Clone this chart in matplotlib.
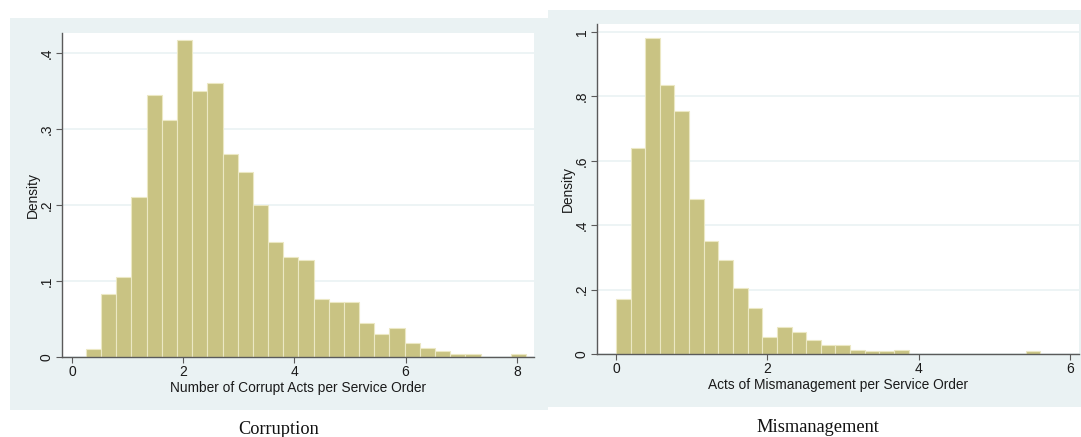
import numpy as np
import matplotlib
matplotlib.use("Agg")
import matplotlib.pyplot as plt
from matplotlib.patches import Rectangle

# ---- data (density per bin) ----
corr_start = 0.25
corr_binw = 0.273
corr_density = [0.011, 0.083, 0.105, 0.211, 0.345, 0.312, 0.417, 0.350, 0.361,
                0.267, 0.244, 0.200, 0.151, 0.132, 0.128, 0.076, 0.072, 0.072,
                0.045, 0.030, 0.038, 0.019, 0.012, 0.008, 0.0045, 0.0045, 0.0,
                0.0, 0.0045]
mism_start = 0.0
mism_binw = 0.1934
mism_density = [0.170, 0.639, 0.980, 0.837, 0.754, 0.480, 0.350, 0.291, 0.206,
                0.144, 0.053, 0.085, 0.069, 0.043, 0.027, 0.027, 0.012, 0.008,
                0.008, 0.012, 0.0, 0.0, 0.0, 0.0, 0.0, 0.0, 0.0, 0.0, 0.008]

corr_xticks = [0, 2, 4, 6, 8]
corr_yticks = [0, 0.1, 0.2, 0.3, 0.4]
corr_yticklabels = ["0", ".1", ".2", ".3", ".4"]
mism_xticks = [0, 2, 4, 6]
mism_yticks = [0, 0.2, 0.4, 0.6, 0.8, 1.0]
mism_yticklabels = ["0", ".2", ".4", ".6", ".8", "1"]

W, H = 1081, 437
fig = plt.figure(figsize=(W / 100, H / 100), dpi=100)
fig.patch.set_facecolor("white")

BG = "#EAF2F3"
BAR = "#C9C383"
EDGE = "#ECE8C4"
AX = "#5A5A5A"
TXT = "#1a1a1a"

def px_rect(x0, y0, x1, y1):
    return [x0 / W, 1 - y1 / H, (x1 - x0) / W, (y1 - y0) / H]

# panel backgrounds
for (x0, y0, x1, y1) in [(10, 18, 548, 410), (548, 10, 1081, 407)]:
    r = px_rect(x0, y0, x1, y1)
    fig.patches.append(Rectangle((r[0], r[1]), r[2], r[3], transform=fig.transFigure,
                                 facecolor=BG, edgecolor="none", zorder=-10))

def panel(rect, start, binw, dens, xlim, ylim, xticks, yticks, yticklabels, xlabel, ylpad):
    ax = fig.add_axes(px_rect(*rect))
    ax.set_zorder(5)
    ax.set_facecolor("white")
    edges = start + binw * np.arange(len(dens))
    ax.bar(edges, dens, width=binw, align="edge", color=BAR, edgecolor=EDGE,
           linewidth=0.8, zorder=2)
    ax.set_xlim(*xlim)
    ax.set_ylim(*ylim)
    ax.set_xticks(xticks)
    ax.set_yticks(yticks)
    ax.set_yticklabels(yticklabels, rotation=90, va="center")
    for s in ["top", "right"]:
        ax.spines[s].set_visible(False)
    for s in ["left", "bottom"]:
        ax.spines[s].set_color(AX)
        ax.spines[s].set_linewidth(1.0)
    ax.tick_params(axis="both", direction="out", length=4, width=0.8, color=AX,
                   labelsize=10, labelcolor=TXT, pad=2)
    ax.yaxis.grid(True, color=BG, linewidth=1.2, zorder=1)
    ax.set_axisbelow(True)
    ax.set_xlabel(xlabel, fontsize=9.9, color=TXT, labelpad=1,
                  family="Liberation Sans")
    ax.set_ylabel("Density", fontsize=9.9, color=TXT, labelpad=ylpad,
                  family="Liberation Sans")
    for lab in ax.get_xticklabels() + ax.get_yticklabels():
        lab.set_family("Liberation Sans")
    return ax

panel((62, 33, 534, 357), corr_start, corr_binw, corr_density,
      (-0.18, 8.31), (0, 0.4263), corr_xticks, corr_yticks, corr_yticklabels,
      "Number of Corrupt Acts per Service Order", 0)
panel((597, 24, 1079, 354), mism_start, mism_binw, mism_density,
      (-0.25, 6.12), (0, 1.025), mism_xticks, mism_yticks, mism_yticklabels,
      "Acts of Mismanagement per Service Order", 0)

fig.text(279 / W, 1 - 429 / H, "Corruption", ha="center", va="center",
         fontsize=13.2, family="Liberation Serif", color="#111111")
fig.text(818 / W, 1 - 427 / H, "Mismanagement", ha="center", va="center",
         fontsize=13.2, family="Liberation Serif", color="#111111")

fig.savefig("out.png", dpi=100)
